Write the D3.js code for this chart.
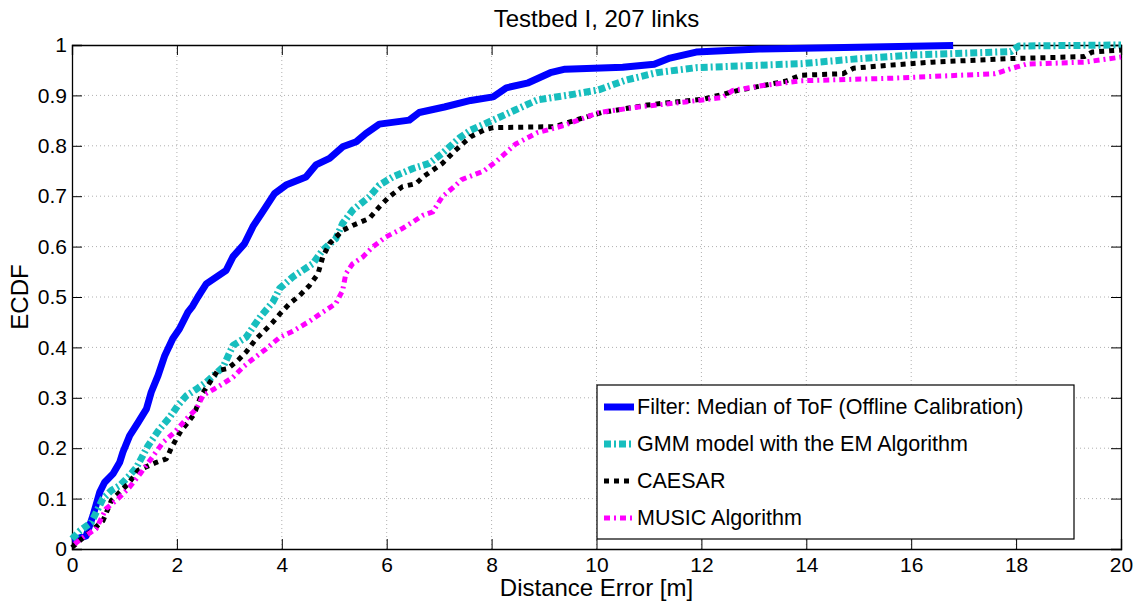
<!DOCTYPE html>
<html>
<head>
<meta charset="utf-8">
<script src="https://cdn.jsdelivr.net/npm/d3@7"></script>
<style>
  body { margin: 0; background: #fff; }
  svg text { font-family: "Liberation Sans", Arial, sans-serif; fill: #000; }
</style>
</head>
<body>
<svg id="chart" width="1139" height="603"></svg>
<script>
"use strict";

// series: [distance error (m), ecdf]
const filterMedian = [[0,0.017],[0.27,0.026],[0.4,0.066],[0.53,0.113],[0.62,0.132],[0.78,0.149],[0.91,0.172],[0.97,0.192],[1.1,0.225],[1.26,0.251],[1.42,0.278],[1.51,0.311],[1.64,0.344],[1.77,0.384],[1.92,0.417],[2.05,0.437],[2.21,0.47],[2.3,0.482],[2.4,0.5],[2.56,0.526],[2.94,0.553],[3.07,0.58],[3.29,0.606],[3.45,0.64],[3.64,0.67],[3.86,0.705],[4.08,0.722],[4.46,0.738],[4.65,0.762],[4.91,0.775],[5.16,0.798],[5.42,0.808],[5.6,0.824],[5.86,0.843],[6.43,0.851],[6.62,0.866],[7.1,0.877],[7.6,0.89],[8.03,0.897],[8.28,0.915],[8.7,0.925],[9.12,0.945],[9.4,0.952],[10.5,0.956],[11.1,0.962],[11.4,0.974],[11.9,0.986],[13.1,0.992],[16.8,0.999]];
const gmmEM = [[0,0.02],[0.15,0.036],[0.37,0.053],[0.59,0.1],[0.75,0.116],[0.91,0.126],[1.1,0.146],[1.23,0.162],[1.45,0.205],[1.67,0.238],[1.86,0.261],[2.02,0.285],[2.18,0.304],[2.37,0.317],[2.56,0.331],[2.88,0.361],[3.07,0.404],[3.32,0.42],[3.45,0.44],[3.6,0.462],[3.83,0.49],[3.96,0.517],[4.21,0.54],[4.59,0.566],[4.78,0.593],[5.03,0.616],[5.16,0.646],[5.35,0.672],[5.67,0.699],[5.86,0.722],[6.11,0.738],[6.5,0.755],[6.81,0.765],[7.06,0.785],[7.38,0.815],[7.6,0.831],[8.03,0.851],[8.45,0.871],[8.87,0.891],[9.55,0.902],[10.04,0.911],[10.55,0.93],[11.14,0.945],[11.9,0.955],[13.9,0.963],[14.9,0.972],[16,0.98],[17.9,0.987],[18.05,0.998],[20,1.0]];
const caesar = [[0,0.003],[0.15,0.017],[0.34,0.033],[0.59,0.056],[0.75,0.096],[0.91,0.113],[1.07,0.129],[1.26,0.156],[1.61,0.172],[1.8,0.179],[1.9,0.202],[2.08,0.235],[2.21,0.251],[2.33,0.268],[2.46,0.304],[2.65,0.334],[2.78,0.354],[2.97,0.358],[3.16,0.374],[3.32,0.391],[3.51,0.417],[3.64,0.43],[3.83,0.45],[3.96,0.466],[4.15,0.487],[4.34,0.503],[4.53,0.523],[4.69,0.546],[4.78,0.579],[4.91,0.606],[5.16,0.632],[5.35,0.642],[5.67,0.656],[5.86,0.679],[6.05,0.699],[6.3,0.719],[6.56,0.725],[6.69,0.738],[7.06,0.765],[7.3,0.79],[7.6,0.818],[7.85,0.831],[8.03,0.836],[9.2,0.838],[9.6,0.851],[10.1,0.866],[10.97,0.881],[12.06,0.893],[12.7,0.91],[13.6,0.928],[13.9,0.94],[14.7,0.943],[14.9,0.954],[15.6,0.96],[16.4,0.966],[17.9,0.973],[19.3,0.977],[19.45,0.986],[20,0.99]];
const music = [[0.05,0.01],[0.21,0.023],[0.46,0.04],[0.65,0.08],[0.88,0.1],[1.1,0.123],[1.32,0.152],[1.55,0.185],[1.74,0.212],[1.96,0.232],[2.18,0.258],[2.37,0.278],[2.5,0.305],[2.72,0.318],[2.88,0.328],[3.07,0.341],[3.26,0.361],[3.45,0.377],[3.7,0.397],[3.96,0.42],[4.21,0.432],[4.53,0.452],[4.78,0.47],[5.03,0.487],[5.16,0.513],[5.22,0.546],[5.35,0.566],[5.54,0.579],[5.73,0.599],[5.98,0.619],[6.3,0.636],[6.5,0.649],[6.69,0.662],[6.88,0.669],[7.06,0.699],[7.32,0.722],[7.43,0.733],[7.85,0.75],[8.1,0.77],[8.45,0.803],[8.87,0.826],[9.37,0.84],[10.04,0.866],[10.8,0.877],[11.7,0.887],[12.4,0.896],[12.6,0.91],[13.2,0.92],[13.9,0.929],[15.6,0.934],[17.6,0.943],[17.9,0.953],[18.2,0.962],[19.3,0.966],[20,0.976]];

const seriesNames = ["Filter: Median of ToF (Offline Calibration)", "GMM model with the EM Algorithm", "CAESAR", "MUSIC Algorithm"];
const xTicks = [0, 2, 4, 6, 8, 10, 12, 14, 16, 18, 20];
const yTicks = [0, 0.1, 0.2, 0.3, 0.4, 0.5, 0.6, 0.7, 0.8, 0.9, 1];

const styles = [
  {color: "#0000ff", width: 7, dash: null},
  {color: "#17bebe", width: 7, dash: "7,3,2,3"},
  {color: "#000000", width: 5, dash: "5,5"},
  {color: "#ff00ff", width: 5, dash: "6,4,2,4"}
];

const margin = {left: 72, right: 18, top: 45, bottom: 53};
const width = 1139, height = 603;
const svg = d3.select("#chart");

const x = d3.scaleLinear().domain([0, 20]).range([margin.left, width - margin.right]);
const y = d3.scaleLinear().domain([0, 1]).range([height - margin.bottom - 1, margin.top]);

// grid
const grid = svg.append("g");
grid.selectAll(".gx").data(xTicks.slice(1, -1)).enter().append("line")
    .attr("x1", d => x(d)).attr("x2", d => x(d))
    .attr("y1", y(0)).attr("y2", y(1))
    .style("stroke", "#b0b0b0").style("stroke-width", 1).style("stroke-dasharray", "1,3");
grid.selectAll(".gy").data(yTicks.slice(1, -1)).enter().append("line")
    .attr("x1", x(0)).attr("x2", x(20))
    .attr("y1", d => y(d)).attr("y2", d => y(d))
    .style("stroke", "#b0b0b0").style("stroke-width", 1).style("stroke-dasharray", "1,3");

// axes, ticks inward on all four sides (matlab box)
const tickLen = 10;
const fmt = d => d === 1 ? "1" : d === 0 ? "0" : d3.format(".1f")(d);
svg.append("g").attr("transform", `translate(0,${y(0)})`)
    .call(d3.axisBottom(x).tickValues(xTicks).tickSize(-tickLen))
    .call(g => g.selectAll("text").style("font-size", "21px").attr("dy", "0.76em").attr("y", 7));
svg.append("g").attr("transform", `translate(0,${y(1)})`)
    .call(d3.axisTop(x).tickValues(xTicks).tickSize(-tickLen).tickFormat(""));
svg.append("g").attr("transform", `translate(${x(0)},0)`)
    .call(d3.axisLeft(y).tickValues(yTicks).tickSize(-tickLen).tickFormat(fmt))
    .call(g => g.selectAll("text").style("font-size", "21px").attr("x", -5));
svg.append("g").attr("transform", `translate(${x(20)},0)`)
    .call(d3.axisRight(y).tickValues(yTicks).tickSize(-tickLen).tickFormat(""));
svg.selectAll(".domain").style("stroke", "#000").style("stroke-width", 1.3);
svg.selectAll(".tick line").style("stroke", "#000").style("stroke-width", 1);

// curves
const line = d3.line().x(d => x(d[0])).y(d => y(d[1]));
const allSeries = [filterMedian, gmmEM, caesar, music];
const curves = svg.append("g");
allSeries.forEach((s, i) => {
  curves.append("path")
      .datum(s)
      .attr("d", line)
      .style("fill", "none")
      .style("stroke", styles[i].color)
      .style("stroke-width", styles[i].width)
      .style("stroke-linejoin", "round")
      .style("stroke-dasharray", styles[i].dash);
});

// legend
const legend = svg.append("g");
legend.append("rect")
    .attr("x", 597).attr("y", 385).attr("width", 477).attr("height", 154)
    .style("fill", "#fff").style("stroke", "#000").style("stroke-width", 1.2);
seriesNames.forEach((name, i) => {
  const ly = 407 + i * 37;
  legend.append("line")
      .attr("x1", 604).attr("x2", 634).attr("y1", ly).attr("y2", ly)
      .style("stroke", styles[i].color)
      .style("stroke-width", styles[i].width)
      .style("stroke-dasharray", styles[i].dash);
  legend.append("text")
      .attr("x", 637).attr("y", ly)
      .attr("dominant-baseline", "central")
      .style("font-size", "21.5px")
      .text(name);
});

// titles
svg.append("text")
    .attr("x", (x(0) + x(20)) / 2).attr("y", 27)
    .attr("text-anchor", "middle")
    .style("font-size", "24px")
    .text("Testbed I, 207 links");
svg.append("text")
    .attr("x", (x(0) + x(20)) / 2).attr("y", 596)
    .attr("text-anchor", "middle")
    .style("font-size", "24px")
    .text("Distance Error [m]");
svg.append("text")
    .attr("transform", `translate(28,${(y(0) + y(1)) / 2}) rotate(-90)`)
    .attr("text-anchor", "middle")
    .style("font-size", "24px")
    .text("ECDF");
</script>
</body>
</html>
